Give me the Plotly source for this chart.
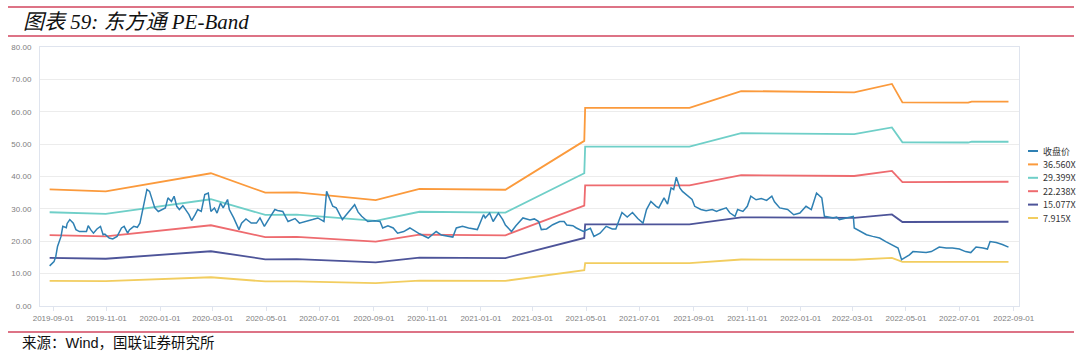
import plotly.graph_objects as go

# ---------------- data ----------------
price_dates = [
    "2019-08-28","2019-09-02","2019-09-04","2019-09-06","2019-09-10","2019-09-12","2019-09-16","2019-09-17",
    "2019-09-20","2019-09-24","2019-09-27","2019-10-01","2019-10-09","2019-10-11","2019-10-14","2019-10-17",
    "2019-10-21","2019-10-25","2019-10-28","2019-10-30","2019-11-04","2019-11-08","2019-11-13","2019-11-18",
    "2019-11-21","2019-11-25","2019-11-27","2019-12-02","2019-12-06","2019-12-09","2019-12-13","2019-12-17",
    "2019-12-20","2019-12-23","2019-12-26","2019-12-30","2020-01-03","2020-01-07","2020-01-10","2020-01-14",
    "2020-01-17","2020-01-20","2020-01-23","2020-01-27","2020-02-03","2020-02-06","2020-02-10","2020-02-13",
    "2020-02-17","2020-02-21","2020-02-25","2020-02-28","2020-03-03","2020-03-06","2020-03-10","2020-03-13",
    "2020-03-18","2020-03-20","2020-03-25","2020-03-31","2020-04-03","2020-04-08","2020-04-14","2020-04-20",
    "2020-04-24","2020-04-29","2020-05-06","2020-05-11","2020-05-14","2020-05-20","2020-05-26","2020-06-03",
    "2020-06-08","2020-06-16","2020-06-23","2020-06-29","2020-07-06","2020-07-09","2020-07-13","2020-07-16",
    "2020-07-20","2020-07-27","2020-07-31","2020-08-06","2020-08-10","2020-08-14","2020-08-18","2020-08-25",
    "2020-09-02","2020-09-08","2020-09-11","2020-09-17","2020-09-23","2020-09-28","2020-10-05","2020-10-12",
    "2020-10-19","2020-10-23","2020-11-02","2020-11-06","2020-11-11","2020-11-17","2020-11-23","2020-11-30",
    "2020-12-04","2020-12-11","2020-12-18","2020-12-28","2021-01-04","2021-01-06","2021-01-11","2021-01-15",
    "2021-01-21","2021-01-26","2021-01-29","2021-02-05","2021-02-10","2021-02-18","2021-02-26","2021-03-03",
    "2021-03-08","2021-03-11","2021-03-17","2021-03-24","2021-04-01","2021-04-06","2021-04-09","2021-04-16",
    "2021-04-20","2021-04-23","2021-04-28","2021-05-06","2021-05-10","2021-05-17","2021-05-24","2021-05-31",
    "2021-06-04","2021-06-08","2021-06-11","2021-06-17","2021-06-23","2021-06-29","2021-07-05","2021-07-09",
    "2021-07-14","2021-07-20","2021-07-23","2021-07-29","2021-08-02","2021-08-06","2021-08-09","2021-08-12",
    "2021-08-16","2021-08-19","2021-08-25","2021-08-30","2021-09-02","2021-09-09","2021-09-15","2021-09-22",
    "2021-09-27","2021-09-30","2021-10-08","2021-10-12","2021-10-18","2021-10-21","2021-10-27","2021-11-01",
    "2021-11-05","2021-11-11","2021-11-17","2021-11-23","2021-11-29","2021-12-02","2021-12-08","2021-12-17",
    "2021-12-24","2021-12-31","2022-01-07","2022-01-13","2022-01-19","2022-01-25","2022-01-28","2022-02-07",
    "2022-02-11","2022-02-14","2022-02-22","2022-03-02","2022-03-03","2022-03-09","2022-03-17","2022-03-24",
    "2022-04-01","2022-04-08","2022-04-15","2022-04-22","2022-04-26","2022-05-05","2022-05-09","2022-05-16",
    "2022-05-24","2022-05-30","2022-06-08","2022-06-16","2022-06-23","2022-07-01","2022-07-08","2022-07-14",
    "2022-07-20","2022-07-28","2022-08-02","2022-08-05","2022-08-12","2022-08-19","2022-08-26",
]
price_values = [
    12.4,13.7,15.3,18.4,21.5,24.6,24.2,25.5,
    26.7,25.6,23.6,23.0,23.0,24.8,23.5,22.5,
    23.8,24.6,22.0,22.2,21.0,20.7,21.5,24.1,
    24.6,22.5,23.5,24.6,24.3,25.6,30.8,36.0,
    35.4,32.9,30.3,29.2,29.8,30.3,33.4,32.3,
    33.9,30.8,29.8,31.0,28.2,26.4,28.2,29.8,
    29.2,34.4,34.9,29.2,30.3,28.7,31.8,30.3,
    32.9,29.8,27.2,23.6,25.6,26.9,25.6,25.6,
    27.2,24.6,27.7,29.8,29.5,29.2,26.1,27.0,
    25.6,26.1,26.7,27.2,26.1,35.4,32.9,30.8,
    30.3,26.7,28.0,29.8,31.3,29.0,27.7,26.1,
    26.3,26.1,24.1,24.8,24.1,22.5,23.0,24.1,
    23.0,22.3,21.0,22.0,23.0,21.9,21.7,21.3,
    24.1,24.6,24.1,23.6,28.2,27.2,28.7,26.1,
    28.7,26.7,25.0,23.0,24.8,27.2,26.6,26.9,
    26.1,23.6,23.8,25.1,26.1,26.1,25.0,24.8,
    24.1,23.6,23.0,24.0,21.5,22.5,24.6,23.8,
    23.8,26.7,28.9,27.5,28.9,27.0,25.6,29.8,
    32.3,30.8,30.3,33.4,31.5,36.5,36.0,39.8,
    36.5,35.4,34.0,32.9,30.8,29.8,29.4,29.8,
    29.2,29.6,30.3,28.8,27.7,29.8,29.2,30.8,
    33.9,32.8,33.2,32.6,33.9,32.2,30.3,29.8,
    28.2,28.7,30.8,29.8,34.9,33.4,27.7,27.2,
    27.5,26.7,27.2,27.7,24.1,23.1,22.0,21.5,
    21.0,19.9,18.8,17.9,14.3,15.8,16.8,16.7,
    16.5,16.8,18.2,17.9,17.9,17.6,16.8,16.5,
    18.2,17.9,17.6,19.9,19.6,19.0,18.2,
]

band_dates = ["2019-08-28","2019-10-31","2020-02-28","2020-04-30","2020-06-05","2020-09-03",
              "2020-10-23","2021-01-29","2021-04-29","2021-04-30","2021-08-27","2021-10-25",
              "2022-03-03","2022-04-15","2022-04-27","2022-07-11","2022-07-15","2022-08-26"]
band_36_560 = [36.00,35.40,41.00,35.00,35.10,32.70,36.20,35.90,51.00,61.20,61.20,66.40,66.00,68.60,62.90,62.80,63.10,63.10]
band_29_399 = [28.95,28.47,32.97,28.14,28.23,26.30,29.11,28.87,41.01,49.21,49.21,53.39,53.07,55.16,50.58,50.50,50.74,50.74]
band_22_238 = [21.90,21.53,24.94,21.29,21.35,19.89,22.02,21.84,31.02,37.23,37.23,40.39,40.15,41.73,38.26,38.20,38.38,38.38]
band_15_077 = [14.85,14.60,16.91,14.43,14.47,13.49,14.93,14.80,21.03,25.24,25.24,27.38,27.22,28.29,25.94,25.90,26.02,26.02]
band_7_915  = [7.79,7.66,8.88,7.58,7.60,7.08,7.84,7.77,11.04,13.25,13.25,14.37,14.29,14.85,13.62,13.60,13.66,13.66]

series_names = ["收盘价", "36.560X", "29.399X", "22.238X", "15.077X", "7.915X"]
series_colors = ["#2f80b3", "#fb9a3c", "#6fcfc8", "#ee6b6f", "#4d5499", "#f2cd5f"]

tick_dates = ["2019-09-01","2019-11-01","2020-01-01","2020-03-01","2020-05-01","2020-07-01","2020-09-01",
              "2020-11-01","2021-01-01","2021-03-01","2021-05-01","2021-07-01","2021-09-01","2021-11-01",
              "2022-01-01","2022-03-01","2022-05-01","2022-07-01","2022-09-01"]
y_ticks = [0, 10, 20, 30, 40, 50, 60, 70, 80]

title_text = "图表 59: 东方通 PE-Band"
source_text = "来源：Wind，国联证券研究所"

# ---------------- layout geometry (pixels) ----------------
W, H = 1080, 351
L, R, T, B = 40, 1019, 47, 306


def px(x):
    return (x - L) / (R - L)


def py(y):
    return (B - y) / (B - T)


fig = go.Figure()
band_values = [band_36_560, band_29_399, band_22_238, band_15_077, band_7_915]
for name, color, vals in zip(series_names[1:], series_colors[1:], band_values):
    fig.add_trace(go.Scatter(x=band_dates, y=vals, mode="lines", name=name,
                             line=dict(color=color, width=1.8), showlegend=False))
fig.add_trace(go.Scatter(x=price_dates, y=price_values, mode="lines", name=series_names[0],
                         line=dict(color=series_colors[0], width=1.5), showlegend=False))

shapes = []
annotations = []

# custom legend on the right
leg_y0, leg_dy = 151, 13.4
for i, (name, color) in enumerate(zip(series_names, series_colors)):
    yy = leg_y0 + i * leg_dy
    shapes.append(dict(type="line", xref="paper", yref="paper", x0=px(1028), x1=px(1038),
                       y0=py(yy), y1=py(yy), line=dict(color=color, width=2)))
    annotations.append(dict(text=name, xref="paper", yref="paper", x=px(1041), y=py(yy),
                            xanchor="left", yanchor="middle", showarrow=False,
                            font=dict(size=9, color="#333333",
                                      family="Liberation Sans Narrow, Noto Sans CJK SC, sans-serif")))

# decorative red rules
for yy in (7, 36, 332):
    shapes.append(dict(type="line", xref="paper", yref="paper", x0=px(8), x1=px(1074),
                       y0=py(yy), y1=py(yy), line=dict(color="#d2455e", width=1.4)))

# title and source
annotations.append(dict(text="<i>" + title_text + "</i>", xref="paper", yref="paper",
                        x=px(21), y=py(22), xanchor="left", yanchor="middle", showarrow=False,
                        font=dict(size=21, color="#111111",
                                  family="Liberation Serif, Noto Sans CJK SC, serif")))
annotations.append(dict(text=source_text, xref="paper", yref="paper",
                        x=px(20), y=py(343), xanchor="left", yanchor="middle", showarrow=False,
                        font=dict(size=14.5, color="#111111",
                                  family="Liberation Sans, Noto Sans CJK SC, sans-serif")))

fig.update_layout(
    width=W, height=H,
    margin=dict(l=L, r=W - R, t=T, b=H - B),
    paper_bgcolor="white", plot_bgcolor="white",
    showlegend=False,
    shapes=shapes, annotations=annotations,
    font=dict(family="Liberation Sans Narrow, Liberation Sans, sans-serif", color="#7a7a7a"),
)
fig.update_xaxes(
    type="date", range=["2019-08-17", "2022-09-07"],
    tickvals=tick_dates, ticktext=tick_dates,
    showgrid=False, showline=True, linecolor="#dfe4ee", linewidth=1, mirror=True,
    ticks="outside", ticklen=4, tickcolor="#dfe4ee",
    tickfont=dict(size=8, color="#808080"), zeroline=False,
)
fig.update_yaxes(
    range=[0, 80], tickvals=y_ticks, tickformat=".2f",
    showgrid=True, gridcolor="#ececec", gridwidth=1,
    showline=True, linecolor="#dfe4ee", linewidth=1, mirror=True,
    ticks="", ticklabelstandoff=6,
    tickfont=dict(size=8, color="#808080"), zeroline=False,
)

fig.write_html("out.html")
